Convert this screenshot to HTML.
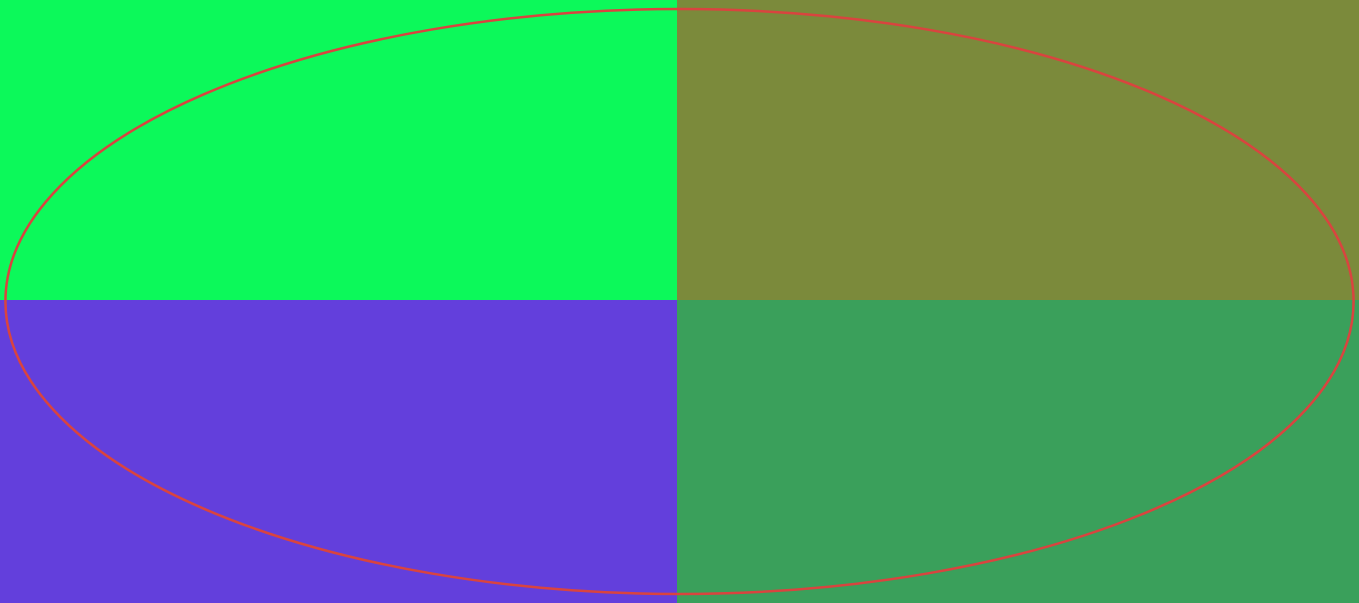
<!DOCTYPE html>
<html>
<head>
<meta charset="utf-8">
<style>
html,body{margin:0;padding:0;width:1359px;height:603px;overflow:hidden;background:#fff;}
svg{display:block;}
</style>
</head>
<body>
<svg id="chart" width="1359" height="603" viewBox="0 0 1359 603" xmlns="http://www.w3.org/2000/svg"></svg>
<script>
const cellRows = [0, 0, 1, 1];
const cellCols = [0, 1, 0, 1];
const cellColors = ["#0cf95a", "#7b8a3b", "#633fdc", "#3aa05b"];
const cellNames = ["quadrant-top-left", "quadrant-top-right", "quadrant-bottom-left", "quadrant-bottom-right"];
const ellipseCenter = [0.5, 0.5];
const ellipseRadii = [0.496, 0.485];

const svg = document.getElementById('chart');
const NS = 'http://www.w3.org/2000/svg';
const W = 1359, H = 603, splitX = 677, splitY = 300;
const colEdges = [0, splitX, W];
const rowEdges = [0, splitY, H];

for (let i = 0; i < cellColors.length; i++) {
  const r = document.createElementNS(NS, 'rect');
  r.setAttribute('x', colEdges[cellCols[i]]);
  r.setAttribute('y', rowEdges[cellRows[i]]);
  r.setAttribute('width', colEdges[cellCols[i] + 1] - colEdges[cellCols[i]]);
  r.setAttribute('height', rowEdges[cellRows[i] + 1] - rowEdges[cellRows[i]]);
  r.setAttribute('fill', cellColors[i]);
  
  
  svg.appendChild(r);
}

const e = document.createElementNS(NS, 'ellipse');
e.setAttribute('cx', ellipseCenter[0] * W);
e.setAttribute('cy', ellipseCenter[1] * H);
e.setAttribute('rx', ellipseRadii[0] * W);
e.setAttribute('ry', ellipseRadii[1] * H);
e.setAttribute('fill', 'none');
e.setAttribute('stroke', '#d9443f');
e.setAttribute('stroke-width', '2.5');


svg.appendChild(e);
</script>
</body>
</html>
